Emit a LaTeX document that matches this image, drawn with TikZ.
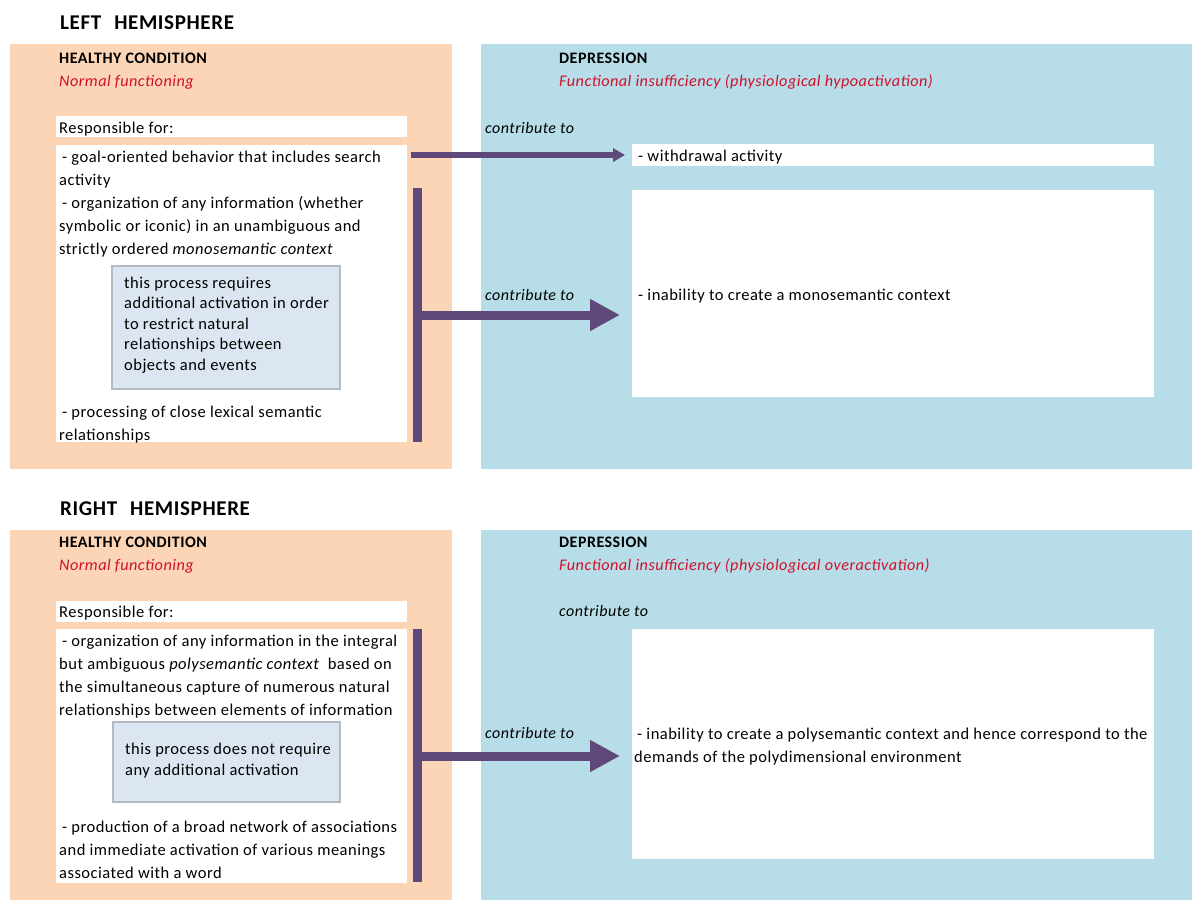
\documentclass[tikz,border=0pt]{standalone}
\usepackage{fontspec}
\setmainfont{Carlito}[LetterSpace=3]
\usetikzlibrary{arrows.meta}
\definecolor{peach}{HTML}{FBD5B5}
\definecolor{lblue}{HTML}{B7DDE8}
\definecolor{purp}{HTML}{5F497A}
\definecolor{boxblue}{HTML}{DCE6F2}
\definecolor{notegrey}{HTML}{B4BAC2}
\definecolor{redtxt}{HTML}{D0112B}
\tikzset{
  panel/.style={anchor=north west, inner sep=0pt, outer sep=0pt, draw=none},
  wbox/.style={panel, fill=white},
  notebox/.style={panel, fill=boxblue, draw=notegrey, line width=1.2pt},
  t/.style={anchor=base west, inner sep=0pt, font=\fontsize{16.5}{23}\selectfont},
  mt/.style={anchor=north west, inner sep=0pt, align=left, font=\fontsize{16.5}{23}\selectfont},
  itx/.style={t, font=\fontsize{16}{23}\selectfont\itshape},
  redit/.style={t, text=redtxt, font=\fontsize{16.2}{23}\selectfont\itshape},
  hd/.style={anchor=base west, inner sep=0pt, font=\fontsize{16}{20}\selectfont\bfseries},
  titletxt/.style={anchor=base west, inner sep=0pt, font=\fontsize{21}{24}\selectfont\bfseries},
  thinarrow/.style={draw=purp, line width=6.5pt, -{Triangle[length=12pt,width=13pt]}},
  bigarrow/.style={draw=purp, line width=9pt, -{Triangle[length=30pt,width=30pt]}},
  vbar/.style={draw=purp, line width=9pt}
}
\begin{document}
\begin{tikzpicture}[x=1pt,y=-1pt]
\useasboundingbox (0,0) rectangle (1192,900);
\fill[white] (0,0) rectangle (1192,900);

% ---------------- LEFT HEMISPHERE ----------------
\node[titletxt] (ltitle) at (60,29) {LEFT\hspace{13pt}HEMISPHERE};
\node[panel, fill=peach, minimum width=442, minimum height=425] (lhealthy) at (10,44) {};
\node[panel, fill=lblue, minimum width=711, minimum height=425] (ldep) at (481,44) {};
\node[hd] (lhh) at (59,63) {HEALTHY CONDITION};
\node[redit] (lhn) at (59,86) {Normal functioning};
\node[wbox, minimum width=351, minimum height=21] (lresp) at (56,116) {};
\node[t] (lrespt) at (59,133) {Responsible for:};
\node[wbox, minimum width=351, minimum height=297] (llist) at (56,145) {};
\node[mt] (llistt) at (59,149) {\rule{0pt}{13pt}\hspace{3pt}- goal-oriented behavior that includes search\\activity\\\hspace{3pt}- organization of any information (whether\\symbolic or iconic) in an unambiguous and\\strictly ordered \textit{monosemantic context}};
\node[notebox, minimum width=228, minimum height=123] (lnote) at (112,266) {};
\node[mt, font=\fontsize{16.5}{20.5}\selectfont] (lnotet) at (124,275) {\rule{0pt}{13pt}this process requires\\additional activation in order\\to restrict natural\\relationships between\\objects and events};
\node[mt] (lproc) at (59,404) {\rule{0pt}{13pt}\hspace{3pt}- processing of close lexical semantic\\relationships};

\node[hd] (ldh) at (559,63) {DEPRESSION};
\node[redit] (ldn) at (559,86) {Functional insufficiency (physiological hypoactivation)};
\node[itx] (lc1) at (485,133) {contribute to};
\node[itx] (lc2) at (485,300) {contribute to};
\node[wbox, minimum width=522, minimum height=22] (lwd) at (632,144) {};
\node[t] (lwdt) at (638,161) {- withdrawal activity};
\node[wbox, minimum width=522, minimum height=207] (lmono) at (632,190) {};
\node[t] (lmonot) at (638,300) {- inability to create a monosemantic context};

\coordinate (lbartop) at (417.5,188);
\coordinate (lbarbot) at (417.5,442);
\coordinate (larrowend) at (620,315);
\draw[vbar] (lbartop) -- (lbarbot);
\draw[bigarrow] (lbartop |- larrowend) -- (larrowend);
\draw[thinarrow] ([xshift=4pt]llist.east |- lwd.west) -- ([xshift=-7pt]lwd.west);

% ---------------- RIGHT HEMISPHERE ----------------
\node[titletxt] (rtitle) at (60,515) {RIGHT\hspace{13pt}HEMISPHERE};
\node[panel, fill=peach, minimum width=442, minimum height=370] (rhealthy) at (10,530) {};
\node[panel, fill=lblue, minimum width=711, minimum height=370] (rdep) at (481,530) {};
\node[hd] (rhh) at (59,547) {HEALTHY CONDITION};
\node[redit] (rhn) at (59,570) {Normal functioning};
\node[wbox, minimum width=351, minimum height=21] (rresp) at (56,601) {};
\node[t] (rrespt) at (59,617) {Responsible for:};
\node[wbox, minimum width=351, minimum height=254] (rlist) at (56,629) {};
\node[mt] (rlistt) at (59,633) {\rule{0pt}{13pt}\hspace{3pt}- organization of any information in the integral\\but ambiguous \textit{polysemantic context}\ \ based on\\the simultaneous capture of numerous natural\\relationships between elements of information};
\node[notebox, minimum width=227, minimum height=80] (rnote) at (113,722) {};
\node[mt, font=\fontsize{16.5}{21}\selectfont] (rnotet) at (125,741) {\rule{0pt}{13pt}this process does not require\\any additional activation};
\node[mt] (rprod) at (59,819) {\rule{0pt}{13pt}\hspace{3pt}- production of a broad network of associations\\and immediate activation of various meanings\\associated with a word};

\node[hd] (rdh) at (559,547) {DEPRESSION};
\node[redit] (rdn) at (559,570) {Functional insufficiency (physiological overactivation)};
\node[itx] (rc1) at (559,616) {contribute to};
\node[itx] (rc2) at (485,738) {contribute to};
\node[wbox, minimum width=522, minimum height=230] (rpoly) at (632,629) {};
\node[mt] (rpolyt) at (634,726) {\rule{0pt}{13pt}\hspace{3pt}- inability to create a polysemantic context and hence correspond to the\\demands of the polydimensional environment};

\coordinate (rbartop) at (417.5,629);
\coordinate (rbarbot) at (417.5,882);
\coordinate (rarrowend) at (620,756);
\draw[vbar] (rbartop) -- (rbarbot);
\draw[bigarrow] (rbartop |- rarrowend) -- (rarrowend);
\end{tikzpicture}
\end{document}
